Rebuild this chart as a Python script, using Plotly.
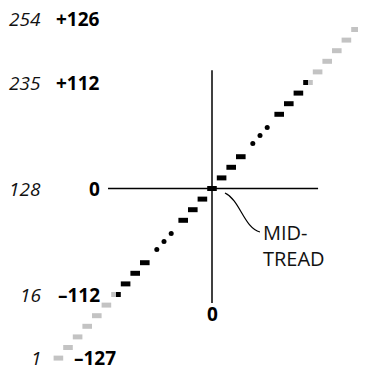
import plotly.graph_objects as go

# quantizer steps, in step units around the mid-tread origin
black_steps = [-9, -8, -7, -3, -2, -1, 0, 1, 2, 3, 7, 8, 9]
gray_steps = [-16, -15, -14, -13, -12, -11, 11, 12, 13, 14, 15, 16]
split_steps = [-10, 10]          # half black, half gray
dot_steps = [-5.75, -5, -4.25, 4.25, 5, 5.75]

# row labels: input code (italic) and output value (bold)
label_steps = [16, 10, 0, -10, -16]
input_labels = ['254', '235', '128', '16', '1']
output_labels = ['+126', '+112', '0', '–112', '–127']

STEP_H = 0.47
X_PX, Y_PX = 9.6, 10.6          # pixels per step
PAGE_PAD = 8                    # default body margin of the page
W, H = 366 - PAGE_PAD, 369 - PAGE_PAD
CX, CY = 212 - PAGE_PAD, 188.5 - PAGE_PAD   # origin in figure pixels
BLACK = '#000000'
GRAY = '#c3c3c3'
FONT = 'Open Sans'

fig = go.Figure()


def add_steps(xs, width, color):
    fig.add_trace(go.Bar(
        x=xs,
        y=[STEP_H] * len(xs),
        base=[round(x) - STEP_H / 2 for x in xs],
        width=width,
        marker=dict(color=color, line=dict(width=0)),
        hoverinfo='skip',
    ))


add_steps(black_steps, 1.0, BLACK)
add_steps(gray_steps, 1.0, GRAY)
# split steps: black half toward the origin, gray half outward
add_steps([k - 0.25 * (1 if k > 0 else -1) for k in split_steps], 0.5, BLACK)
add_steps([k + 0.25 * (1 if k > 0 else -1) for k in split_steps], 0.5, GRAY)

fig.add_trace(go.Scatter(
    x=dot_steps, y=dot_steps, mode='markers',
    marker=dict(color=BLACK, size=5),
    hoverinfo='skip',
))

# axes cross
fig.add_shape(type='line', x0=0, x1=0, y0=-10.8, y1=11.15,
              line=dict(color=BLACK, width=1.5))
fig.add_shape(type='line', x0=-10.83, x1=11.05, y0=0, y1=0,
              line=dict(color=BLACK, width=1.5))

# leader curve to the mid-tread label
fig.add_shape(type='path', path='M 1.35,-0.43 C 2.92,-1.08 3.33,-3.73 5.0,-4.1',
              line=dict(color=BLACK, width=1.2))

for k, inp, out in zip(label_steps, input_labels, output_labels):
    fig.add_annotation(x=-17.6, y=k, text='<i>' + inp + '</i>', showarrow=False,
                       xanchor='right', yanchor='middle',
                       font=dict(family=FONT, size=19, color='#111111'))
    if k == min(label_steps):
        fig.add_annotation(x=k + 1.45, y=k, text='<b>' + out + '</b>', showarrow=False,
                           xanchor='left', yanchor='middle',
                           font=dict(family=FONT, size=19, color=BLACK))
    else:
        fig.add_annotation(x=-11.46, y=k, text='<b>' + out + '</b>', showarrow=False,
                           xanchor='right', yanchor='middle',
                           font=dict(family=FONT, size=19, color=BLACK))

fig.add_annotation(x=0, y=-11.84, text='<b>0</b>', showarrow=False,
                   xanchor='center', yanchor='middle',
                   font=dict(family=FONT, size=19, color=BLACK))

fig.add_annotation(x=5.1, y=-5.33, text='MID-<br>TREAD', showarrow=False,
                   xanchor='left', yanchor='middle', align='left',
                   font=dict(family=FONT, size=20, color='#111111'))

fig.update_layout(
    width=W, height=H,
    margin=dict(l=0, r=0, t=0, b=0),
    autosize=False,
    showlegend=False,
    barmode='overlay',
    plot_bgcolor='white',
    paper_bgcolor='white',
    xaxis=dict(visible=False, range=[-CX / X_PX, (W - CX) / X_PX], fixedrange=True),
    yaxis=dict(visible=False, range=[(CY - H) / Y_PX, CY / Y_PX], fixedrange=True),
)

fig.write_html('out.html', config=dict(displayModeBar=False))
